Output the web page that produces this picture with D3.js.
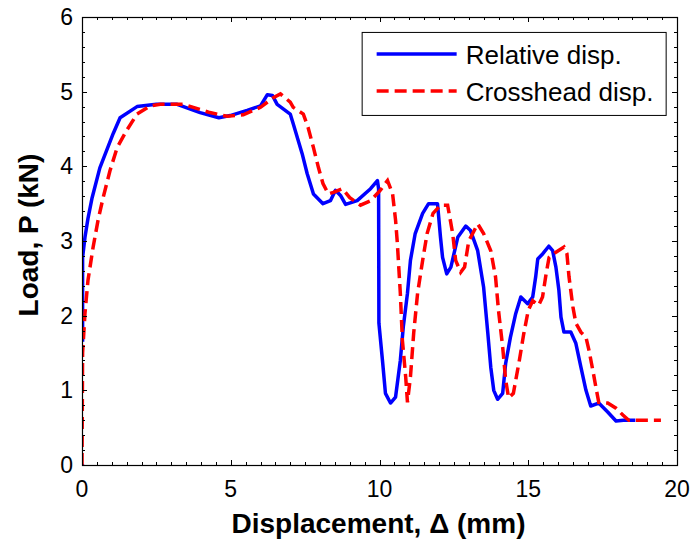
<!DOCTYPE html>
<html>
<head>
<meta charset="utf-8">
<script src="https://cdn.jsdelivr.net/npm/d3@7"></script>
<style>
  body { margin: 0; background: #fff; }
  svg { display: block; font-family: Arial, "Liberation Sans", sans-serif; }
  .tick-label { font-size: 23px; fill: #000; }
  .axis-title { font-size: 28px; font-weight: bold; fill: #000; }
  .legend-text { font-size: 26px; fill: #000; }
</style>
</head>
<body>
<div id="chart"></div>
<script>
// Relative displacement (x in mm, load in kN)
const relX = [0, 0.03, null, 0.02, 0.02, 0.1, 0.2, 0.34, 0.6, 1.05, 1.28, 1.85, 2.5, 3.2, 3.97, 4.6, 4.98, 5.55, 6.0, 6.23, 6.4, 6.56, 7.0, 7.1, 7.4, 7.57, 7.78, 8.1, 8.35, 8.52, 8.69, 8.86, 9.25, 9.7, 9.93, 9.97, 9.98, 10.1, 10.2, 10.37, 10.54, 10.7, 10.8, 10.94, 11.04, 11.2, 11.45, 11.65, 11.95, 12.05, 12.12, 12.26, 12.4, 12.63, 12.9, 13.06, 13.3, 13.5, 13.64, 13.74, 13.84, 13.97, 14.14, 14.24, 14.4, 14.58, 14.75, 14.98, 15.15, 15.25, 15.32, 15.49, 15.69, 15.82, 15.93, 16.03, 16.1, 16.2, 16.43, 16.6, 16.77, 16.94, 17.1, 17.37, 17.67, 17.95, 18.2, 18.6];
const relP = [0, 0.02, null, 1.65, 2.78, 3.05, 3.3, 3.58, 3.98, 4.44, 4.65, 4.8, 4.83, 4.83, 4.72, 4.65, 4.68, 4.75, 4.81, 4.96, 4.95, 4.83, 4.7, 4.57, 4.17, 3.9, 3.63, 3.5, 3.54, 3.68, 3.61, 3.49, 3.54, 3.7, 3.81, 3.7, 1.9, 1.4, 0.96, 0.83, 0.91, 1.4, 1.85, 2.3, 2.74, 3.1, 3.37, 3.5, 3.5, 3.05, 2.78, 2.56, 2.65, 3.05, 3.2, 3.14, 2.87, 2.38, 1.77, 1.31, 1.0, 0.88, 0.96, 1.36, 1.71, 2.03, 2.25, 2.16, 2.25, 2.52, 2.76, 2.83, 2.93, 2.87, 2.65, 2.34, 1.98, 1.78, 1.78, 1.63, 1.31, 1.0, 0.79, 0.83, 0.71, 0.59, 0.6, 0.6];

// Crosshead displacement
const crossX = [0, 0.02, 0.1, 0.2, 0.37, 0.54, 0.71, 0.94, 1.18, 1.5, 1.85, 2.29, 2.63, 3.4, 3.74, 4.3, 4.88, 5.42, 6.0, 6.43, 6.67, 7.0, 7.1, 7.44, 7.6, 7.78, 7.95, 8.1, 8.28, 8.45, 8.75, 9.0, 9.36, 9.7, 10.03, 10.27, 10.44, 10.54, 10.6, 10.7, 10.77, 10.88, 10.94, 11.04, 11.15, 11.28, 11.45, 11.6, 11.8, 12.05, 12.29, 12.46, 12.56, 12.73, 12.86, 13.0, 13.3, 13.5, 13.74, 13.9, 14.0, 14.14, 14.24, 14.34, 14.5, 14.7, 14.85, 15.0, 15.15, 15.35, 15.48, 15.6, 15.7, 15.93, 16.2, 16.3, 16.37, 16.5, 16.6, 16.77, 16.94, 17.04, 17.17, 17.27, 17.37, 17.67, 17.95, 18.18, 18.38, 19.46];
const crossP = [0, 1.5, 2.03, 2.47, 2.91, 3.28, 3.58, 3.94, 4.25, 4.48, 4.7, 4.81, 4.83, 4.83, 4.79, 4.72, 4.67, 4.69, 4.79, 4.92, 4.97, 4.86, 4.79, 4.7, 4.52, 4.25, 3.98, 3.77, 3.63, 3.65, 3.7, 3.58, 3.48, 3.54, 3.68, 3.81, 3.63, 3.28, 2.97, 2.3, 1.67, 1.18, 0.84, 1.18, 1.77, 2.3, 2.74, 3.1, 3.37, 3.48, 3.48, 3.1, 2.74, 2.58, 2.65, 3.0, 3.23, 3.1, 2.87, 2.52, 2.07, 1.58, 1.14, 0.9, 0.96, 1.4, 1.76, 2.07, 2.2, 2.14, 2.25, 2.56, 2.78, 2.85, 2.92, 2.83, 2.52, 2.12, 1.9, 1.78, 1.71, 1.54, 1.27, 1.05, 0.84, 0.83, 0.76, 0.67, 0.6, 0.6];

const xTicks = [0, 5, 10, 15, 20];
const yTicks = [0, 1, 2, 3, 4, 5, 6];
const seriesNames = ['Relative disp.', 'Crosshead disp.'];

const width = 693, height = 542;
const margin = {top: 17, right: 16, bottom: 77, left: 82};
const gWidth = width - margin.left - margin.right;
const gHeight = height - margin.top - margin.bottom;

const xScale = d3.scaleLinear().domain([0, 20]).range([0, gWidth]);
const yScale = d3.scaleLinear().domain([0, 6]).range([gHeight, 0]);

const svg = d3.select('#chart').append('svg')
  .attr('width', width)
  .attr('height', height);

const g = svg.append('g')
  .attr('transform', `translate(${margin.left}, ${margin.top})`);

g.append('clipPath').attr('id', 'clip')
  .append('rect').attr('width', gWidth).attr('height', gHeight);

const toPoints = (xs, ys) => xs.map((x, i) => [x, ys[i]]);
const lineGen = d3.line()
  .defined(d => d[0] !== null && d[1] !== null)
  .x(d => xScale(d[0]))
  .y(d => yScale(d[1]));

// Blue solid line first, red dashed on top
g.append('path')
  .datum(toPoints(relX, relP))
  .attr('clip-path', 'url(#clip)')
  .attr('fill', 'none')
  .attr('stroke', '#0000ff')
  .attr('stroke-width', 3.5)
  .attr('stroke-linejoin', 'round')
  .attr('d', lineGen);

g.append('path')
  .datum(toPoints(crossX, crossP))
  .attr('clip-path', 'url(#clip)')
  .attr('fill', 'none')
  .attr('stroke', '#ff0000')
  .attr('stroke-width', 3.5)
  .attr('stroke-dasharray', '12,6')
  .attr('d', lineGen);

// Axes box with inward ticks on all four sides
const minorX = d3.range(0, 20.01, 0.5);
const minorY = d3.range(0, 6.01, 0.2);
const tickG = g.append('g').attr('stroke', '#000').attr('stroke-width', 1);

minorX.forEach(v => {
  const len = xTicks.includes(v) ? 5 : 3;
  const x = Math.round(xScale(v)) + 0.5;
  tickG.append('line').attr('x1', x).attr('x2', x).attr('y1', gHeight).attr('y2', gHeight - len);
  tickG.append('line').attr('x1', x).attr('x2', x).attr('y1', 0).attr('y2', len);
});
minorY.forEach(v => {
  const major = yTicks.some(t => Math.abs(t - v) < 1e-6);
  const len = major ? 5 : 3;
  const y = Math.round(yScale(v)) + 0.5;
  tickG.append('line').attr('x1', 0).attr('x2', len).attr('y1', y).attr('y2', y);
  tickG.append('line').attr('x1', gWidth).attr('x2', gWidth - len).attr('y1', y).attr('y2', y);
});

g.append('rect')
  .attr('x', 0.5).attr('y', 0.5)
  .attr('width', gWidth).attr('height', gHeight)
  .attr('fill', 'none')
  .attr('stroke', '#000')
  .attr('stroke-width', 1.2);

// Tick labels
g.selectAll('text.xlab')
  .data(xTicks)
  .enter().append('text')
  .attr('class', 'tick-label')
  .attr('x', d => xScale(d))
  .attr('y', gHeight + 32)
  .attr('text-anchor', 'middle')
  .text(d => d);

g.selectAll('text.ylab')
  .data(yTicks)
  .enter().append('text')
  .attr('class', 'tick-label')
  .attr('x', -9)
  .attr('y', d => yScale(d) + 8)
  .attr('text-anchor', 'end')
  .text(d => d);

// Axis titles
g.append('text')
  .attr('class', 'axis-title')
  .attr('x', (xScale(0) + xScale(20)) / 2 - 1)
  .attr('y', gHeight + 68)
  .attr('text-anchor', 'middle')
  .text('Displacement, \u0394 (mm)');

g.append('text')
  .attr('class', 'axis-title')
  .attr('transform', `translate(-44, ${gHeight / 2 - 6}) rotate(-90)`)
  .attr('text-anchor', 'middle')
  .text('Load, P (kN)');

// Legend
const legend = g.append('g')
  .attr('transform', `translate(${xScale(9.4)}, ${yScale(5.8)})`);
legend.append('rect')
  .attr('x', 0.5).attr('y', 0.5)
  .attr('width', 304).attr('height', 83)
  .attr('fill', '#fff')
  .attr('stroke', '#000');

seriesNames.forEach((name, i) => {
  const y = 22 + i * 37;
  legend.append('line')
    .attr('x1', 15).attr('x2', 95)
    .attr('y1', y).attr('y2', y)
    .attr('stroke', i === 0 ? '#0000ff' : '#ff0000')
    .attr('stroke-width', 3.5)
    .attr('stroke-dasharray', i === 0 ? null : '12,6');
  legend.append('text')
    .attr('class', 'legend-text')
    .attr('x', 104)
    .attr('y', y + 10)
    .text(name);
});
</script>
</body>
</html>
